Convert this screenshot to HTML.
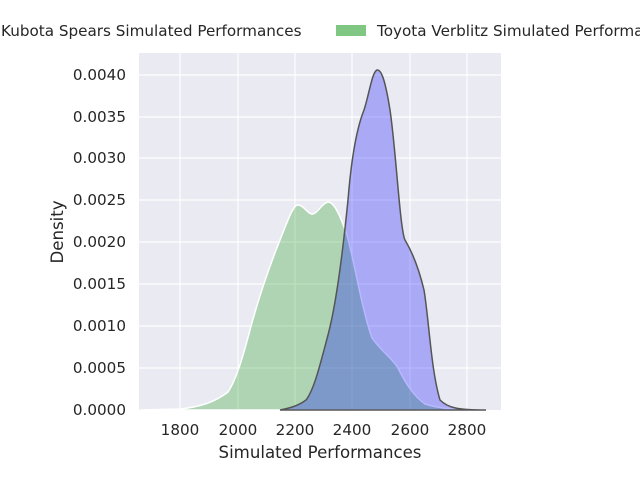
<!DOCTYPE html>
<html><head><style>body{margin:0;background:#fff}svg{display:block}</style></head><body>
<svg width="640" height="480" xmlns="http://www.w3.org/2000/svg" font-family="DejaVu Sans, Liberation Sans, sans-serif" font-size="15.2" fill="#262626">
<rect x="139" y="53" width="362" height="357" fill="#eaeaf2"/>
<g stroke="#fff" stroke-width="1.2">
<line x1="180" y1="53" x2="180" y2="410"/><line x1="238" y1="53" x2="238" y2="410"/><line x1="295" y1="53" x2="295" y2="410"/><line x1="352" y1="53" x2="352" y2="410"/><line x1="410" y1="53" x2="410" y2="410"/><line x1="467" y1="53" x2="467" y2="410"/>
<line x1="139" y1="368" x2="501" y2="368"/><line x1="139" y1="326" x2="501" y2="326"/><line x1="139" y1="284" x2="501" y2="284"/><line x1="139" y1="242" x2="501" y2="242"/><line x1="139" y1="200" x2="501" y2="200"/><line x1="139" y1="158" x2="501" y2="158"/><line x1="139" y1="117" x2="501" y2="117"/><line x1="139" y1="75" x2="501" y2="75"/>
</g>
<path d="M140,410 L180,409 C200,407 215,402 228,392 C236,380 242,360 250,330 C258,300 268,270 280,240 C288,220 293,205 298,205 C304,205 308,215 313,214 C318,213 322,203 328,202 C334,202 340,215 347,235 C355,265 362,310 372,338 C382,352 392,358 398,368 C404,380 412,395 425,404 C440,409 460,410 486,410 Z" fill="#4caf50" fill-opacity="0.38" stroke="#fff" stroke-width="1.5"/>
<path d="M280,410 C290,408 298,406 306,400 C314,390 320,365 328,335 C336,305 342,260 348,200 C352,150 358,125 364,110 C369,95 372,72 377,70 C382,69 386,85 390,110 C396,150 400,230 405,240 C411,250 418,265 424,290 C429,320 431,370 440,400 C448,408 458,410 486,410 Z" fill="#0000ff" fill-opacity="0.28" stroke="#555" stroke-width="1.5"/>
<g text-anchor="end">
<text x="126" y="415">0.0000</text><text x="126" y="373">0.0005</text><text x="126" y="331">0.0010</text><text x="126" y="289">0.0015</text><text x="126" y="247">0.0020</text><text x="126" y="205">0.0025</text><text x="126" y="163">0.0030</text><text x="126" y="122">0.0035</text><text x="126" y="80">0.0040</text>
</g>
<g text-anchor="middle">
<text x="180" y="435">1800</text><text x="238" y="435">2000</text><text x="295" y="435">2200</text><text x="352" y="435">2400</text><text x="410" y="435">2600</text><text x="467" y="435">2800</text>
<text x="320" y="458" font-size="16.6">Simulated Performances</text>
<text transform="translate(63,232) rotate(-90)" font-size="16.6">Density</text>
</g>
<text x="1" y="36">Kubota Spears Simulated Performances</text>
<rect x="336" y="25" width="30" height="11" fill="#81c784"/>
<text x="377" y="36">Toyota Verblitz Simulated Performances</text>
</svg>
</body></html>
